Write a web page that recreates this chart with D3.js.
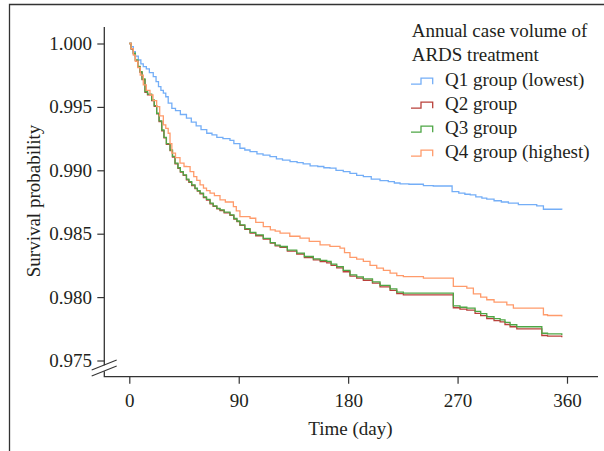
<!DOCTYPE html>
<html>
<head>
<meta charset="utf-8">
<script src="https://cdn.jsdelivr.net/npm/d3@7"></script>
<style>
  body { margin: 0; background: #fff; }
  #wrapper svg { display: block; }
  text { font-family: "Liberation Serif", "Times New Roman", serif; fill: #231f20; }
</style>
</head>
<body>
<div id="wrapper"></div>
<script>
// Kaplan-Meier curves: [day, survival]
const q1Lowest = [[0,1.0],[1.6,0.99975],[3.3,0.99935],[5,0.999],[7.4,0.9987],[9.5,0.9984],[11.5,0.99817],[14,0.998],[16.5,0.9977],[19.7,0.99738],[22,0.997],[24,0.9966],[26,0.9963],[28,0.99608],[30,0.9958],[32,0.9953],[35,0.99489],[38,0.9947],[42,0.9944],[47,0.99411],[51,0.9938],[55,0.9935],[59,0.9932],[63.7,0.99292],[68,0.9928],[72,0.9926],[77,0.9925],[82.8,0.99236],[86,0.9921],[91,0.99174],[95,0.9916],[99.3,0.99147],[105,0.9913],[110,0.9912],[115.7,0.99108],[121,0.9909],[126,0.9908],[132.2,0.99069],[138,0.9906],[143,0.9905],[148.7,0.99035],[155,0.9903],[160,0.9902],[165,0.99017],[170,0.99],[176,0.9899],[181.5,0.98976],[187,0.9896],[192.5,0.9895],[199,0.9893],[206.2,0.98919],[213,0.9891],[218,0.989],[222.7,0.98893],[230,0.9889],[241.9,0.98879],[250,0.98876],[265.5,0.98832],[271,0.9882],[276,0.98811],[280.4,0.98806],[285,0.9879],[290,0.9878],[294,0.98772],[300,0.9876],[306,0.9875],[311.8,0.98741],[320,0.9873],[335.1,0.98719],[340.6,0.98693],[355.7,0.98688]]
const q2 = [[0,1.0],[1.5,0.99955],[3.3,0.99918],[5,0.99865],[7,0.99815],[8.8,0.99772],[10.5,0.99715],[12.9,0.99615],[15,0.99595],[18.4,0.9955],[20.5,0.99505],[22.5,0.99445],[24.5,0.99385],[26.7,0.99312],[28.5,0.99255],[30.5,0.99205],[33.5,0.99155],[35.5,0.99105],[37.6,0.9905],[40,0.99015],[42,0.98985],[44.4,0.9896],[47,0.98925],[49,0.98905],[51.3,0.9888],[54,0.98855],[56,0.98835],[58.2,0.98815],[61,0.98785],[63.5,0.98765],[66.4,0.98736],[69,0.98715],[72,0.98695],[74.6,0.98683],[78,0.98665],[82.8,0.98644],[86,0.98615],[88.5,0.98595],[91,0.98565],[95,0.98535],[99.3,0.98505],[104,0.98484],[110.2,0.98457],[116,0.98425],[120,0.98404],[124,0.98392],[130,0.98363],[137.7,0.9834],[144,0.98312],[151.4,0.98293],[157,0.9828],[162.4,0.9827],[166,0.9825],[170.6,0.9823],[176,0.982],[181.5,0.98166],[187,0.9815],[192.5,0.98133],[200,0.9811],[206.2,0.98081],[214.5,0.98053],[220,0.98028],[225.4,0.98018],[266.5,0.97916],[272,0.97905],[277.6,0.97897],[284.4,0.97872],[289,0.97854],[294,0.9783],[300,0.97814],[305,0.97804],[309,0.97784],[313.2,0.97766],[318.7,0.9775],[339.3,0.97697],[344,0.97692],[355.7,0.97683]]
const q3 = [[0,1.0],[1.5,0.9996],[3.3,0.99923],[5,0.9987],[7,0.9982],[8.8,0.99778],[10.5,0.9972],[12.9,0.9962],[15,0.996],[18.4,0.99555],[20.5,0.9951],[22.5,0.9945],[24.5,0.9939],[26.7,0.99318],[28.5,0.9926],[30.5,0.9921],[33.5,0.9916],[35.5,0.9911],[37.6,0.99056],[40,0.9902],[42,0.9899],[44.4,0.98964],[47,0.9893],[49,0.9891],[51.3,0.98885],[54,0.9886],[56,0.9884],[58.2,0.9882],[61,0.9879],[63.5,0.9877],[66.4,0.98741],[69,0.9872],[72,0.987],[74.6,0.98688],[78,0.9867],[82.8,0.98649],[86,0.9862],[88.5,0.986],[91,0.9857],[95,0.9854],[99.3,0.98511],[104,0.9849],[110.2,0.98463],[116,0.9843],[120,0.9841],[124,0.98399],[130,0.9837],[137.7,0.98347],[144,0.9832],[151.4,0.98302],[157,0.9829],[162.4,0.98281],[166,0.9826],[170.6,0.98241],[176,0.9821],[181.5,0.98176],[187,0.9816],[192.5,0.98144],[200,0.9812],[206.2,0.98093],[214.5,0.98065],[220,0.9804],[225.4,0.98031],[266.5,0.97931],[272,0.9792],[277.6,0.97913],[284.4,0.97888],[289,0.9787],[294,0.97845],[300,0.9783],[305,0.97821],[309,0.978],[313.2,0.97782],[318.7,0.97766],[339.3,0.97715],[344,0.9771],[355.7,0.97701]]
const q4Highest = [[0,1.0],[1.5,0.9996],[3.3,0.99909],[5,0.9986],[7,0.9981],[9,0.9975],[11.5,0.99673],[14,0.9963],[17,0.99594],[19.5,0.9955],[22.5,0.99502],[25,0.9943],[28,0.99358],[30,0.9933],[32,0.99292],[33.5,0.9921],[35,0.99135],[38,0.991],[41.7,0.99056],[45,0.9903],[47.2,0.99029],[50,0.9899],[53,0.9895],[55.5,0.9892],[58.2,0.98885],[61,0.9886],[63.5,0.9884],[66.4,0.9882],[70,0.988],[74.6,0.98767],[79,0.9875],[85.6,0.98714],[88,0.9868],[91,0.98635],[99.3,0.98622],[104,0.9859],[110.2,0.98556],[116,0.9853],[120,0.9852],[124,0.98504],[132,0.9848],[140.4,0.98465],[148,0.9844],[156.9,0.98412],[165,0.984],[173.3,0.98386],[177,0.9835],[181.5,0.98314],[187,0.983],[192.5,0.98281],[198,0.9825],[203.5,0.98229],[209,0.9821],[214.5,0.98189],[220,0.9817],[225.4,0.98162],[241.9,0.9815],[266.5,0.98084],[277.6,0.98071],[283,0.98026],[289,0.98],[294,0.97979],[300,0.9796],[310.5,0.97939],[315.9,0.97913],[340.6,0.97861],[344,0.97855],[355.7,0.97847]]

const groupNames = ["Q1 group (lowest)", "Q2 group", "Q3 group", "Q4 group (highest)"]
const groupColors = ["#74aef7", "#b9413b", "#4ea645", "#ff9b6b"]
const legendTitle = ["Annual case volume of", "ARDS treatment"]
const xTicks = [0, 90, 180, 270, 360]
const yTicks = [0.975, 0.980, 0.985, 0.990, 0.995, 1.000]

function drawSurvivalChart() {
    const series = [q1Lowest, q2, q3, q4Highest]

    const dimensions = {
        width: 604,
        height: 451,
    }

    const svg = d3.select("#wrapper")
        .append("svg")
            .attr("width", dimensions.width)
            .attr("height", dimensions.height)

    // frame (only top and left edges are visible)
    svg.append("path")
        .attr("d", "M9.5,451 V4.5 H604")
        .attr("fill", "none")
        .attr("stroke", "#333")
        .attr("stroke-width", 1.3)

    const xScale = d3.scaleLinear()
        .domain([0, 360])
        .range([129.3, 567])

    const yScale = d3.scaleLinear()
        .domain([0.975, 1.0])
        .range([360.5, 43.5])

    const axisX = 104.3
    const axisY = 376.7

    // y axis
    const yAxis = svg.append("g")
        .attr("transform", `translate(${axisX},0)`)
        .call(d3.axisLeft(yScale)
            .tickValues(yTicks)
            .tickFormat(d3.format(".3f"))
            .tickSize(7)
            .tickPadding(5.3))
    yAxis.select(".domain").remove()
    yAxis.selectAll(".tick line").attr("stroke", "#333").attr("stroke-width", 1.2)
    yAxis.selectAll(".tick text").style("font-size", "19px").attr("fill", "#231f20")
        .style("font-family", "'Liberation Serif', serif")

    // x axis
    const xAxis = svg.append("g")
        .attr("transform", `translate(0,${axisY})`)
        .call(d3.axisBottom(xScale)
            .tickValues(xTicks)
            .tickSize(7)
            .tickPadding(9.5))
    xAxis.select(".domain").remove()
    xAxis.selectAll(".tick line").attr("stroke", "#333").attr("stroke-width", 1.2)
    xAxis.selectAll(".tick text").style("font-size", "19px").attr("fill", "#231f20")
        .style("font-family", "'Liberation Serif', serif")

    // axis lines with the break on the y axis
    const axisLines = svg.append("g")
        .attr("stroke", "#333")
        .attr("stroke-width", 1.3)
        .attr("fill", "none")
    axisLines.append("path").attr("d", `M${axisX},27 V365.2`)
    axisLines.append("path").attr("d", `M${axisX},371.2 V${axisY} H598`)
    axisLines.append("path").attr("d", "M91.7,370 L116.7,360").attr("stroke-width", 1.1)
    axisLines.append("path").attr("d", "M91.7,376 L116.7,366").attr("stroke-width", 1.1)

    // curves
    const lineGenerator = d3.line()
        .x(d => xScale(d[0]))
        .y(d => yScale(d[1]))
        .curve(d3.curveStepAfter)

    svg.append("g")
        .selectAll("path")
        .data(series)
        .join("path")
            .attr("d", d => lineGenerator(d))
            .attr("fill", "none")
            .attr("stroke", (d, i) => groupColors[i])
            .attr("stroke-width", 1.3)

    // axis titles
    svg.append("text")
        .attr("x", 350.5)
        .attr("y", 435)
        .attr("text-anchor", "middle")
        .style("font-size", "19px")
        .text("Time (day)")

    svg.append("text")
        .attr("transform", "translate(40,201) rotate(-90)")
        .attr("text-anchor", "middle")
        .style("font-size", "19px")
        .text("Survival probability")

    // legend
    const legend = svg.append("g")
    legend.selectAll("text.title")
        .data(legendTitle)
        .join("text")
            .attr("class", "title")
            .attr("x", 411.7)
            .attr("y", (d, i) => 36.5 + i * 24)
            .style("font-size", "19px")
            .text(d => d)

    const items = legend.selectAll("g.item")
        .data(groupNames)
        .join("g")
            .attr("class", "item")
            .attr("transform", (d, i) => `translate(0,${86 + i * 24})`)

    items.append("path")
        .attr("d", "M411,-1.8 H421 V-7.8 H432.7 V-1.8")
        .attr("fill", "none")
        .attr("stroke", (d, i) => groupColors[i])
        .attr("stroke-width", 1.3)

    items.append("text")
        .attr("x", 445)
        .attr("y", 0)
        .style("font-size", "19px")
        .text(d => d)
}

drawSurvivalChart();
</script>
</body>
</html>
